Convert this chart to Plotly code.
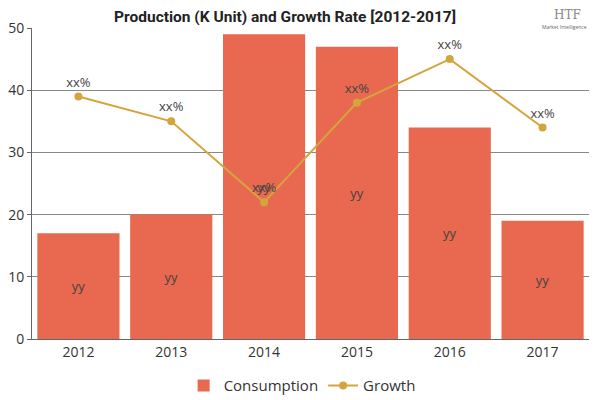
import plotly.graph_objects as go

years = ["2012", "2013", "2014", "2015", "2016", "2017"]
consumption = [17, 20, 49, 47, 34, 19]
growth = [39, 35, 22, 38, 45, 34]
bar_labels = ["yy"] * 6
line_labels = ["xx%"] * 6

fig = go.Figure()
fig.add_trace(go.Bar(
    x=years, y=consumption, name="Consumption",
    marker=dict(color="#e8694f", line=dict(width=0)),
    text=bar_labels, textposition="inside", insidetextanchor="middle",
    textfont=dict(color="#444444", size=13),
))
fig.add_trace(go.Scatter(
    x=years, y=growth, name="Growth", mode="lines+markers",
    line=dict(color="#d4a53c", width=2),
    marker=dict(color="#d4a53c", size=8),
))
# label layer for the growth points
fig.add_trace(go.Scatter(
    x=years, y=growth, mode="markers+text", showlegend=False, hoverinfo="skip",
    marker=dict(size=9, opacity=0),
    text=line_labels, textposition="top center",
    textfont=dict(color="#444444", size=13),
))

fig.update_layout(
    width=592, height=392,
    margin=dict(l=24, r=11, t=20, b=61, autoexpand=False),
    paper_bgcolor="white", plot_bgcolor="white",
    font=dict(family="Open Sans", size=13, color="#333333"),
    title=dict(text="<b>Production (K Unit) and Growth Rate [2012-2017]</b>",
               x=0.468, xanchor="center", y=0.993, yanchor="top", automargin=False,
               font=dict(family="Roboto", size=15.5, color="#222222")),
    bargap=0.115,
    showlegend=True,
    legend=dict(orientation="h", x=0.485, xanchor="center", y=-0.15, yanchor="middle",
                itemwidth=30, font=dict(size=15, color="#333333")),
    xaxis=dict(showline=True, linecolor="#666666", ticks="", automargin=False,
               tickfont=dict(size=14, color="#333333")),
    yaxis=dict(range=[0, 50], dtick=10, showgrid=True, gridcolor="#888888",
               showline=True, linecolor="#666666", zeroline=False, automargin=False,
               ticks="outside", ticklen=4, tickcolor="#666666",
               tickfont=dict(size=14, color="#333333")),
)
fig.add_annotation(x=0.99, y=1.07, xref="paper", yref="paper", text="HTF",
                   showarrow=False, xanchor="right", yanchor="top",
                   font=dict(family="DejaVu Serif", size=12, color="#888888"))
fig.add_annotation(x=1.0, y=1.02, xref="paper", yref="paper", text="Market Intelligence",
                   showarrow=False, xanchor="right", yanchor="top",
                   font=dict(size=5, color="#666666"))

fig.write_html("out.html")
